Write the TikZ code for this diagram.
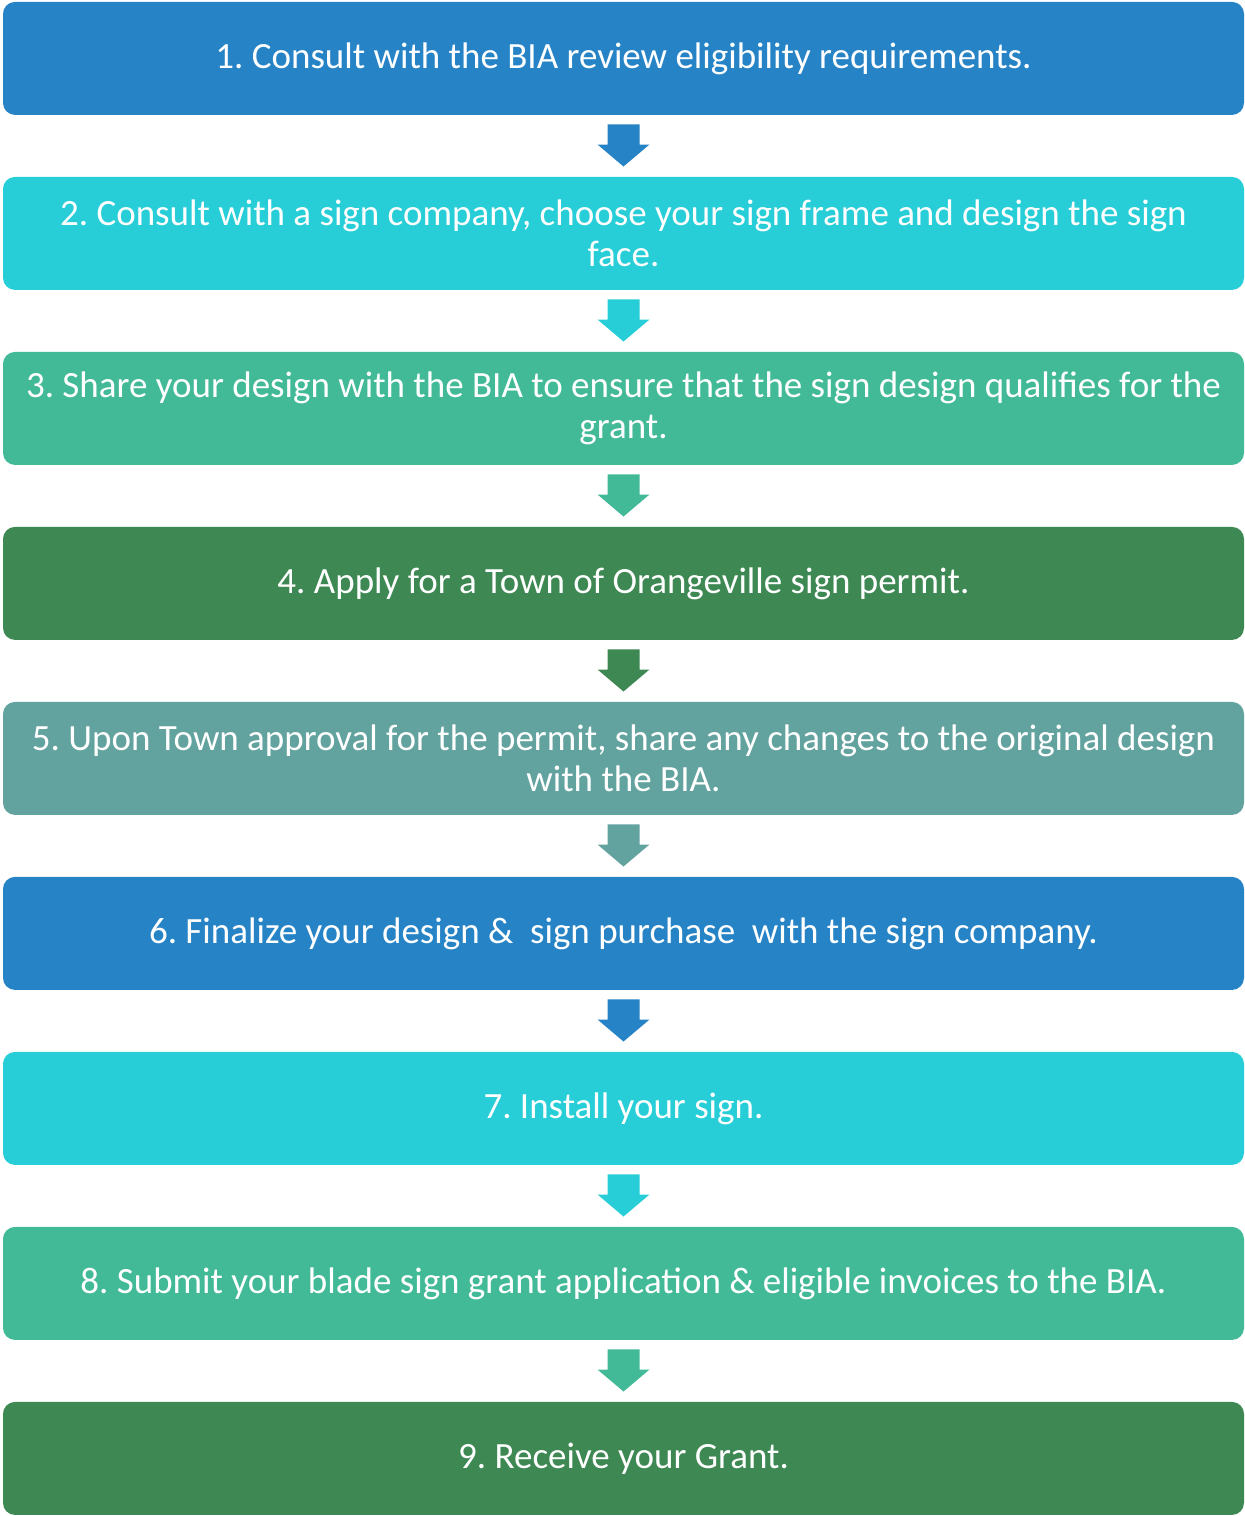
\documentclass[tikz,border=0pt]{standalone}
\usepackage{fontspec}
\setmainfont{Carlito}
\frenchspacing
\usetikzlibrary{calc,positioning}
\definecolor{stepblue}{HTML}{2683C6}
\definecolor{stepcyan}{HTML}{27CED7}
\definecolor{stepteal}{HTML}{42BA97}
\definecolor{stepgreen}{HTML}{3E8853}
\definecolor{stepgray}{HTML}{62A39F}
\tikzset{
  stepbox/.style={fill=#1,rounded corners=6pt,minimum width=620.5pt,minimum height=56.5pt,
    inner sep=0pt,text=white,align=center,anchor=north,font=\fontsize{18.5}{20.5}\selectfont},
}
% block arrow from the bottom of one step to the top of the next
\newcommand{\flowarrow}[3]{%
  \fill[#3] ($(#1.south)+(-8pt,-4.5pt)$) -- ($(#2.north)+(-8pt,16pt)$) -- ($(#2.north)+(-13pt,16pt)$)
    -- ($(#2.north)+(0,5pt)$) -- ($(#2.north)+(13pt,16pt)$) -- ($(#2.north)+(8pt,16pt)$)
    -- ($(#1.south)+(8pt,-4.5pt)$) -- cycle;}

\begin{document}
\begin{tikzpicture}
  % --- Definitions ---
  \def\boxX{311.75pt}  % centre of the boxes
  \def\boxTop{0.75pt}  % top of the first box
  \def\pitch{87.5pt}   % box height + gap

  \useasboundingbox (0,0) rectangle (622pt,-758pt);

  % --- 1. Steps ---
  \foreach \i/\col/\txt in {
    1/stepblue/{1. Consult with the BIA review eligibility requirements.},
    2/stepcyan/{2. Consult with a sign company, choose your sign frame and design the sign\\face.},
    3/stepteal/{3. Share your design with the BIA to ensure that the sign design qualifies for the\\grant.},
    4/stepgreen/{4. Apply for a Town of Orangeville sign permit.},
    5/stepgray/{5. Upon Town approval for the permit, share any changes to the original design\\with the BIA.},
    6/stepblue/{6. Finalize your design \&\ \ sign purchase\ \ with the sign company.},
    7/stepcyan/{7. Install your sign.},
    8/stepteal/{8. Submit your blade sign grant application \& eligible invoices to the BIA.},
    9/stepgreen/{9. Receive your Grant.}} {%
    \node[stepbox=\col] (s\i) at (\boxX, {-\boxTop-(\i-1)*\pitch}) {\txt};
  }

  % --- 2. Arrows between the steps ---
  \foreach \i/\col in {1/stepblue,2/stepcyan,3/stepteal,4/stepgreen,5/stepgray,6/stepblue,7/stepcyan,8/stepteal} {%
    \pgfmathtruncatemacro\j{\i+1}
    \flowarrow{s\i}{s\j}{\col}
  }
\end{tikzpicture}
\end{document}
